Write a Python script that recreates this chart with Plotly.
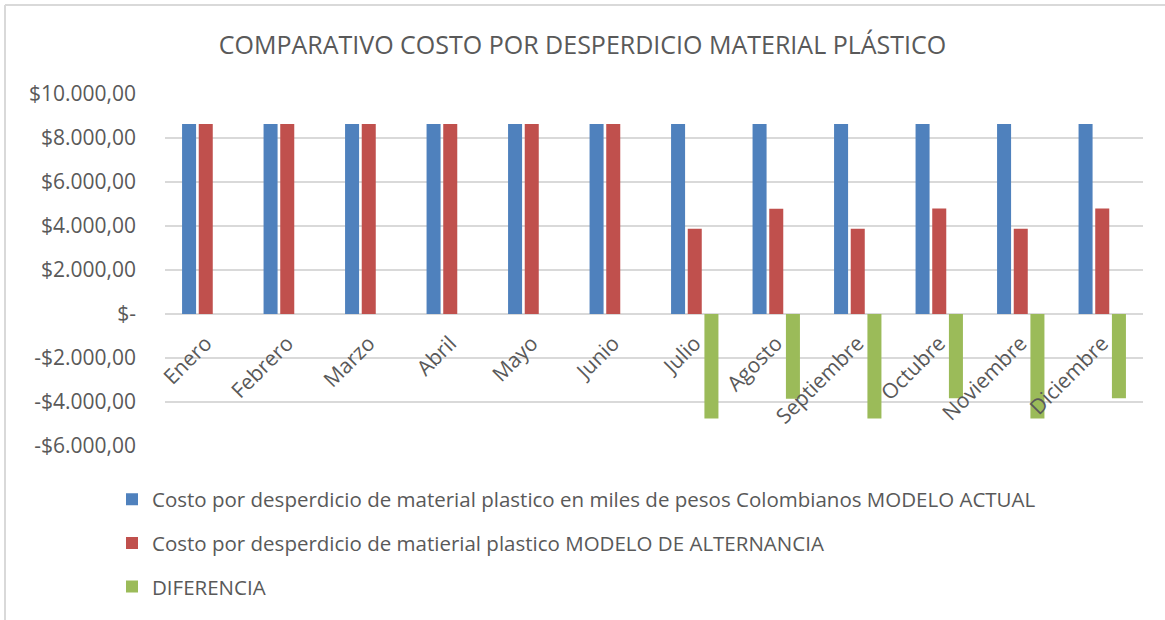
import plotly.graph_objects as go

meses = ["Enero", "Febrero", "Marzo", "Abril", "Mayo", "Junio", "Julio",
         "Agosto", "Septiembre", "Octubre", "Noviembre", "Diciembre"]
modelo_actual = [8632, 8632, 8632, 8632, 8632, 8632, 8632, 8632, 8632, 8632, 8632, 8632]
modelo_alternancia = [8632, 8632, 8632, 8632, 8632, 8632, 3880, 4780, 3880, 4800, 3880, 4800]
diferencia = [0, 0, 0, 0, 0, 0, -4752, -3852, -4752, -3832, -4752, -3832]

y_tickvals = [10000, 8000, 6000, 4000, 2000, 0, -2000, -4000, -6000]
y_ticktext = ["$10.000,00", "$8.000,00", "$6.000,00", "$4.000,00", "$2.000,00", "$-",
              "-$2.000,00", "-$4.000,00", "-$6.000,00"]

names = ["Costo por desperdicio de material plastico en miles de pesos Colombianos MODELO ACTUAL",
         "Costo por desperdicio de matierial plastico MODELO DE ALTERNANCIA",
         "DIFERENCIA"]
colors = ["#4F81BD", "#C0504D", "#9BBB59"]

FONT = "Open Sans"
TXT = "#595959"

fig = go.Figure()
for i, (nm, vals, col) in enumerate(zip(names, [modelo_actual, modelo_alternancia, diferencia], colors)):
    fig.add_trace(go.Bar(x=meses, y=vals, name=nm, marker=dict(color=col, line=dict(width=0)),
                         legendgroup=f"g{i}"))

fig.update_layout(
    width=1165, height=620,
    margin=dict(l=165, r=22, t=94, b=174),
    paper_bgcolor="white", plot_bgcolor="white",
    barmode="group", bargap=0.386, bargroupgap=0.16,
    title=dict(text="COMPARATIVO COSTO POR DESPERDICIO MATERIAL PLÁSTICO",
               x=0.5, xanchor="center", y=1 - 45 / 620, yanchor="middle",
               font=dict(family=FONT, size=25, color=TXT)),
    font=dict(family=FONT, color=TXT),
    showlegend=True,
    legend=dict(orientation="v", x=(112 - 165) / 978, xanchor="left", y=-0.095, yanchor="top",
                font=dict(family=FONT, size=20.5, color=TXT),
                traceorder="grouped", tracegroupgap=14, itemwidth=30,
                bgcolor="rgba(0,0,0,0)"),
    yaxis=dict(range=[-6000, 10000], tickvals=y_tickvals, ticktext=y_ticktext,
               showgrid=True, gridcolor="#d9d9d9", gridwidth=1.5,
               zeroline=True, zerolinecolor="#d9d9d9", zerolinewidth=1.5,
               showline=False, ticks="", ticklabelstandoff=28,
               tickfont=dict(family=FONT, size=21, color=TXT), fixedrange=True),
    xaxis=dict(type="category", anchor="free", position=0.375,
               tickangle=-45, showline=False, showgrid=False, ticks="",
               ticklabelstandoff=12,
               tickfont=dict(family=FONT, size=21, color=TXT), fixedrange=True),
    shapes=[
        dict(type="line", xref="paper", yref="paper",
             x0=(5 - 165) / 978, x1=(1170 - 165) / 978,
             y0=(446 - 5) / 352, y1=(446 - 5) / 352,
             line=dict(color="#d9d9d9", width=2)),
        dict(type="line", xref="paper", yref="paper",
             x0=(5 - 165) / 978, x1=(5 - 165) / 978,
             y0=(446 - 5) / 352, y1=(446 - 625) / 352,
             line=dict(color="#d9d9d9", width=2)),
    ],
)

fig.write_html("out.html")
